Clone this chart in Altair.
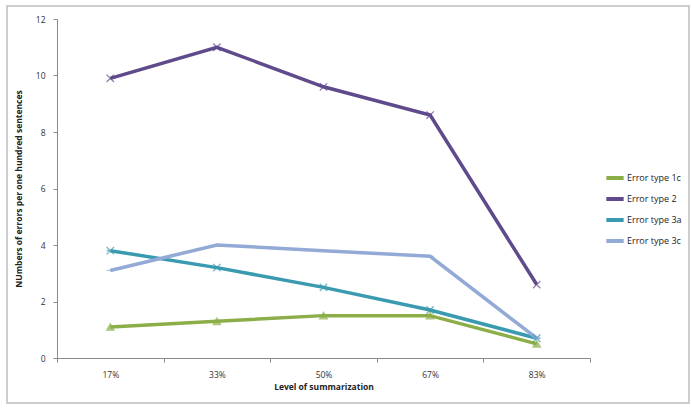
import altair as alt
import pandas as pd

levels = ["17%", "33%", "50%", "67%", "83%"]
series = ["Error type 1c", "Error type 2", "Error type 3a", "Error type 3c"]
err_1c = [1.1, 1.3, 1.5, 1.5, 0.5]
err_2 = [9.9, 11.0, 9.6, 8.6, 2.6]
err_3a = [3.8, 3.2, 2.5, 1.7, 0.7]
err_3c = [3.1, 4.0, 3.8, 3.6, 0.7]
colors = ["#8CAE48", "#5F4A8C", "#3A9AB0", "#93AAD6"]
shapes = [
    "triangle-up",
    "M-1,-1L1,1M-1,1L1,-1",
    "M-1,-1L1,1M-1,1L1,-1M-1,0L1,0",
    "M-1,0L1,0",
]

rows = []
for name, vals in zip(series, [err_1c, err_2, err_3a, err_3c]):
    for lv, v in zip(levels, vals):
        rows.append({"level": lv, "value": v, "series": name, "marker": name})
df = pd.DataFrame(rows)

FONT = "Open Sans"

x_enc = alt.X("level:N", sort=levels,
              scale=alt.Scale(domain=levels, paddingInner=0, paddingOuter=0),
              axis=alt.Axis(title="Level of summarization", labelAngle=0,
                            tickBand="extent", grid=False, domainColor="#8a8a8a",
                            tickColor="#8a8a8a", tickSize=4, labelPadding=8,
                            titlePadding=4))
y_enc = alt.Y("value:Q", scale=alt.Scale(domain=[0, 12], nice=False),
              axis=alt.Axis(title="NUmbers of errors per one hundred sentences",
                            values=[0, 2, 4, 6, 8, 10, 12], grid=False,
                            domainColor="#8a8a8a", tickColor="#8a8a8a",
                            tickSize=4, labelPadding=8, titlePadding=12))

lines = alt.Chart(df).mark_line(strokeWidth=3.5).encode(
    x=x_enc, y=y_enc,
    color=alt.Color("series:N", scale=alt.Scale(domain=series, range=colors),
                    legend=alt.Legend(title=None, orient="none", legendX=547,
                                      legendY=148, symbolType="stroke",
                                      symbolStrokeWidth=4, symbolSize=300,
                                      labelFontSize=9, labelFont=FONT,
                                      rowPadding=2, labelOffset=1,
                                      symbolOffset=0)),
)

points = alt.Chart(df).mark_point(size=55, strokeWidth=1.3, filled=False).encode(
    x=alt.X("level:N", sort=levels), y="value:Q",
    stroke=alt.Stroke("marker:N", scale=alt.Scale(domain=series, range=colors), legend=None),
    shape=alt.Shape("marker:N", scale=alt.Scale(domain=series, range=shapes), legend=None),
    fill=alt.condition(alt.datum.marker == "Error type 1c", alt.value("#8CAE48"), alt.value("transparent")),
)

frame = alt.Chart(alt.Data(values=[{"a": 1}])).mark_rect(
    fill="transparent", stroke="#bdbdbd", strokeWidth=1.5
).encode(x=alt.value(-50), x2=alt.value(632), y=alt.value(-13), y2=alt.value(384))

chart = alt.layer(frame, lines, points).resolve_scale(
    color="independent", shape="independent", stroke="independent"
).resolve_legend(color="independent", shape="independent", stroke="independent").properties(
    width=533, height=339,
    padding={"left": 57, "top": 19, "right": 101, "bottom": 50},
    autosize="none",
).configure_view(stroke=None).configure_axis(
    labelFont=FONT, titleFont=FONT, labelFontSize=8.5, titleFontSize=8.5,
    labelColor="#333", titleColor="#222", titleFontWeight="bold"
).configure_legend(labelColor="#222")

chart.save("out.html", embed_options={"renderer": "svg", "actions": False})
